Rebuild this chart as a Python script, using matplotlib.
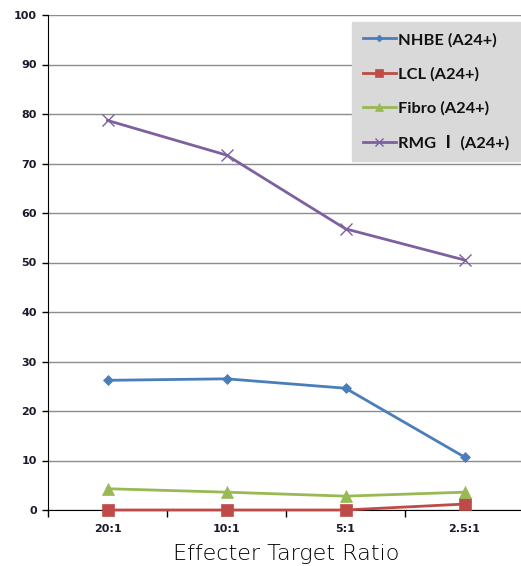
import matplotlib
matplotlib.use("Agg")
import matplotlib.pyplot as plt
import numpy as np

categories = ["20:1", "10:1", "5:1", "2.5:1"]
nhbe = [26.2, 26.5, 24.6, 10.7]
lcl = [0.0, 0.0, 0.0, 1.2]
fibro = [4.3, 3.6, 2.8, 3.6]
rmg = [78.7, 71.7, 56.8, 50.5]
series_labels = ["NHBE (A24+)", "LCL (A24+)", "Fibro (A24+)", "RMG \u2160 (A24+)"]
y_ticks = [0, 10, 20, 30, 40, 50, 60, 70, 80, 90, 100]

fig = plt.figure(figsize=(5.21, 5.66), dpi=100)
ax = fig.add_axes([48 / 521, 56 / 566, 476 / 521, 495 / 566])

x = np.arange(len(categories))
styles = [
    (nhbe, "#4a7ebb", "D", 5),
    (lcl, "#be4b48", "s", 8),
    (fibro, "#98b954", "^", 8),
    (rmg, "#7d60a0", "x", 8),
]
handles = []
for (vals, col, mk, ms), lab in zip(styles, series_labels):
    h, = ax.plot(x, vals, color=col, lw=2, marker=mk, markersize=ms,
                 markeredgewidth=1 if mk == "x" else 0.5,
                 markeredgecolor=col, label=lab, zorder=3, clip_on=False)
    handles.append(h)

ax.set_xlim(-0.5, 3.5)
ax.set_ylim(0, 100)
ax.set_yticks(y_ticks)
ax.set_xticks(x)
ax.set_xticklabels(categories)
ax.set_xticks(np.arange(-0.5, 4.0, 1.0), minor=True)
ax.tick_params(axis="x", which="major", length=0, pad=10)
ax.tick_params(axis="x", which="minor", length=5, width=1, color="black", direction="out")
ax.tick_params(axis="y", length=4, width=1, color="black", direction="out", pad=4)
for lbl in ax.get_xticklabels() + ax.get_yticklabels():
    lbl.set_fontsize(8)
    lbl.set_fontweight("bold")
    lbl.set_color("#1a1a2a")

ax.grid(axis="y", color="#8c8c8c", lw=1)
ax.set_axisbelow(True)
for s in ["top", "right"]:
    ax.spines[s].set_visible(False)
ax.spines["left"].set_color("black")
ax.spines["bottom"].set_color("black")

ax.set_xlabel("Effecter Target Ratio", fontsize=16, family="DejaVu Sans",
              fontweight="light", color="black", labelpad=7)

leg = fig.legend(handles=handles, loc="upper right",
                 bbox_to_anchor=(520 / 521, 1 - 22 / 566), bbox_transform=fig.transFigure,
                 frameon=True, fancybox=False, facecolor="#d9d9d9", edgecolor="#d9d9d9",
                 framealpha=1, borderpad=0.65, labelspacing=1.2, handlelength=2.0,
                 handletextpad=0.15, borderaxespad=0, markerscale=0.7,
                 prop={"family": ["Lato", "Noto Sans CJK JP"], "weight": "bold", "size": 11.8})
for t in leg.get_texts():
    t.set_color("#111111")

fig.savefig("out.png", dpi=100)
